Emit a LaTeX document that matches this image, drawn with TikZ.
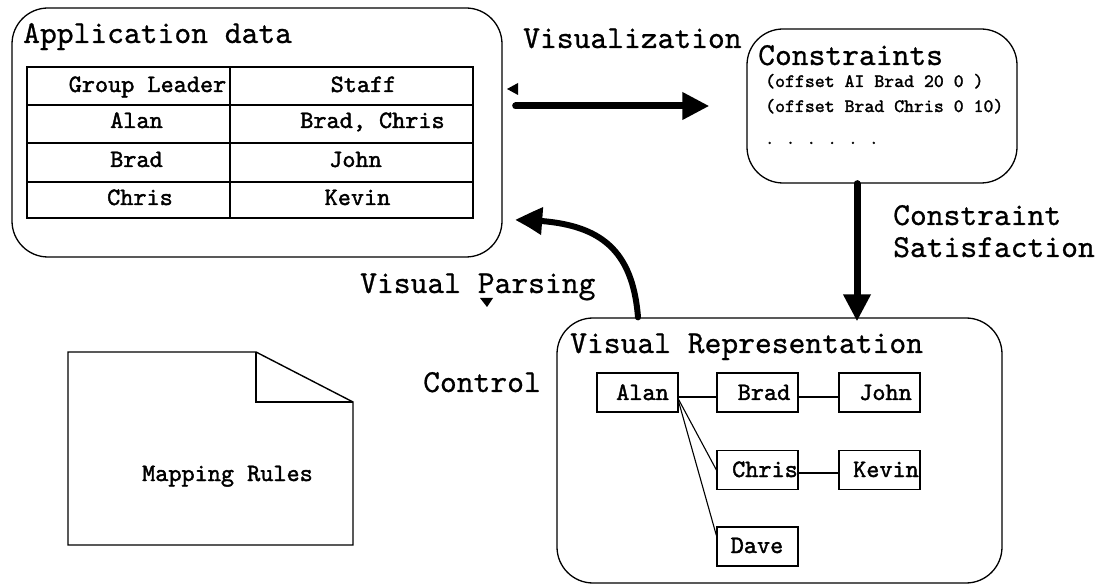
\documentclass[tikz,border=0pt]{standalone}
\usepackage{fontspec}
\usetikzlibrary{arrows.meta,bending}
\newfontfamily\monoheavy{lmmono10-regular}[Extension=.otf,FakeBold=1.6]
\newfontfamily\monomid{lmmono10-regular}[Extension=.otf,FakeBold=0.7]
\newcommand\fsz[1]{\fontsize{#1}{#1}\selectfont}

\begin{document}
\begin{tikzpicture}[x=1pt,y=-1pt,
  panel/.style={draw,line width=1.3pt,rounded corners=36pt,inner sep=0pt},
  title/.style={anchor=base west,inner sep=0pt,font=\monomid\fsz{32}},
  cell/.style={anchor=base,inner sep=0pt,font=\monoheavy\fsz{25}},
  code/.style={anchor=base west,inner sep=0pt,font=\monoheavy\fsz{18.9}},
  vbox/.style={draw,line width=1.2pt,minimum width=81pt,minimum height=39pt,inner sep=0pt},
  vlabel/.style={anchor=base,inner sep=0pt,font=\monoheavy\fsz{25}},
  link/.style={line width=1.1pt},
  rule/.style={line width=1.4pt},
  bigarrow/.style={line width=7pt,line cap=round,-{Triangle[length=27pt,width=26pt]}},
]
\useasboundingbox (0,0) rectangle (1104,585);

% ---- panels ----
\node[panel,minimum width=490pt,minimum height=249pt] (app) at (257,132.5) {};
\node[panel,minimum width=270pt,minimum height=154pt] (cons) at (882,106) {};
\node[panel,minimum width=445pt,minimum height=265pt] (vr) at (779.5,450.5) {};

\node[title] (appT) at (23,43) {Application data};
\node[title] (consT) at (758,65) {Constraints};
\node[title] (vrT) at (570,353) {Visual Representation};

% ---- data table ----
\draw[rule] (27,67) rectangle (473,218);
\foreach \y in {105,143,182} \draw[rule] (27,\y) -- (473,\y);
\draw[rule] (230,67) -- (230,218);
\node[cell] (c11) at (147.5,92) {Group Leader};
\node[cell] (c12) at (363.5,92) {Staff};
\node[cell] (c21) at (136.5,128) {Alan};
\node[cell] (c22) at (372.5,128) {Brad, Chris};
\node[cell] (c31) at (136.5,167) {Brad};
\node[cell] (c32) at (355.5,167) {John};
\node[cell] (c41) at (140,205) {Chris};
\node[cell] (c42) at (357.5,205) {Kevin};

% ---- constraint list ----
\node[code] (k1) at (765,87) {(offset AI Brad 20 0 )};
\node[code] (k2) at (765,112) {(offset Brad Chris 0 10)};
\node[code,font=\monoheavy\fsz{17}] (k3) at (765,144) {. . . . . .};

% ---- flow labels ----
\node[title] (lviz) at (523,48) {Visualization};
\node[title] (lcs1) at (893,225) {Constraint};
\node[title] (lcs2) at (893,257) {Satisfaction};
\node[title] (lvp) at (360,293) {Visual Parsing};
\node[title] (lctl) at (423,392) {Control};

% ---- flow arrows ----
\coordinate (vizrow) at (0,106);
\draw[bigarrow,shorten <=13pt,shorten >=37pt] (app.east |- vizrow) -- (cons.west |- vizrow);

\coordinate (solvex) at (857,0);
\draw[bigarrow,shorten >=-4pt] (solvex |- cons.south) -- (solvex |- vr.north);

\coordinate (parsex) at (638,0);
\coordinate (parseEnd) at (515,220);
\draw[line width=6pt,line cap=round,-{Triangle[length=28pt,width=26pt,bend]}]
  (parsex |- vr.north) .. controls (632,240) and (590,220) .. (parseEnd);

% small stray arrowheads
\fill (507,89) -- (518,83) -- (518,95) -- cycle;
\fill (480,298) -- (493,298) -- (487,307) -- cycle;

% ---- mapping rules sheet ----
\draw[rule] (68,352) -- (256,352) -- (353,402) -- (353,545) -- (68,545) -- cycle;
\draw[rule] (256,352) -- (256,402) -- (353,402);
\node[cell] (map) at (227.5,481) {Mapping Rules};

% ---- visual representation graph ----
\node[vbox] (alan)  at (637.5,392.5) {};
\node[vbox] (brad)  at (757.5,392.5) {};
\node[vbox] (john)  at (879.5,392.5) {};
\node[vbox] (chris) at (757.5,470) {};
\node[vbox] (kevin) at (879.5,470) {};
\node[vbox] (dave)  at (757.5,546.5) {};

\node[vlabel] at (642.5,400) {Alan};
\node[vlabel] at (764,400) {Brad};
\node[vlabel] at (885.5,400) {John};
\node[vlabel] at (765,477) {Chris};
\node[vlabel] at (886,477) {Kevin};
\node[vlabel] at (757,553) {Dave};

\draw[link] ([yshift=-4.5pt]alan.east) -- ([yshift=-4.5pt]brad.west);
\draw[link] ([yshift=-4.5pt]brad.east) -- ([yshift=-4.5pt]john.west);
\draw[link] ([yshift=-3pt]chris.east) -- ([yshift=-3pt]kevin.west);
\draw[link] ([yshift=-7pt]alan.east) -- (chris.west);
\draw[link] ([yshift=-9pt]alan.east) -- ([yshift=11pt]dave.west);
\end{tikzpicture}
\end{document}
